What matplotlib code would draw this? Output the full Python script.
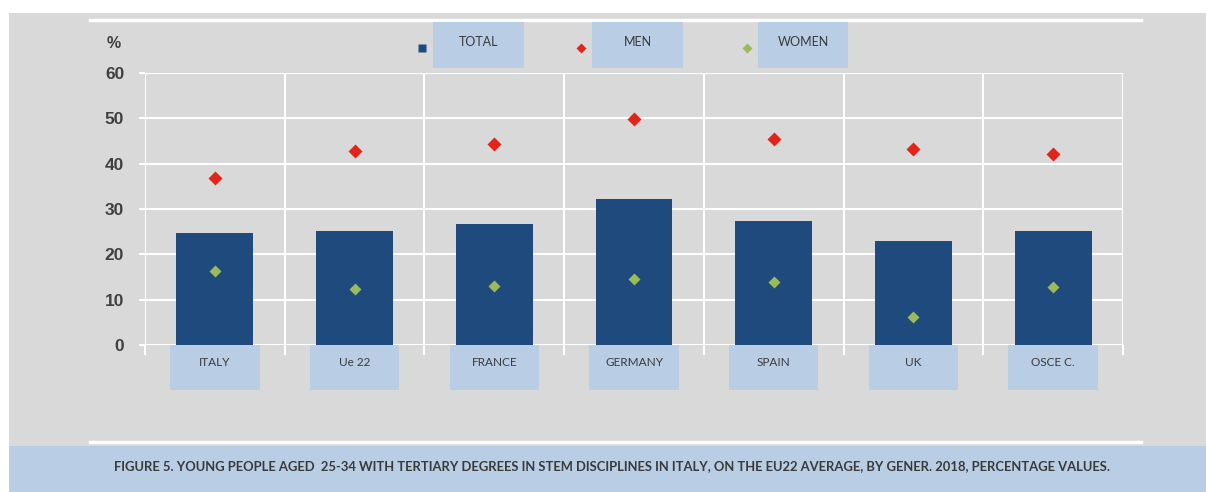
import matplotlib
matplotlib.use('Agg')
import matplotlib.pyplot as plt
from matplotlib.patches import Rectangle
import numpy as np

categories = ['ITALY', 'Ue 22', 'FRANCE', 'GERMANY', 'SPAIN', 'UK', 'OSCE C.']
total = [24.6, 25.1, 26.6, 32.2, 27.3, 22.9, 25.1]
men = [36.8, 42.7, 44.3, 49.8, 45.4, 43.2, 42.1]
women = [16.3, 12.3, 13.0, 14.5, 13.9, 6.2, 12.8]
yticks = [0, 10, 20, 30, 40, 50, 60]
legend_labels = ['TOTAL', 'MEN', 'WOMEN']
caption = ('FIGURE 5. YOUNG PEOPLE AGED  25-34 WITH TERTIARY DEGREES IN STEM DISCIPLINES '
           'IN ITALY, ON THE EU22 AVERAGE, BY GENER. 2018, PERCENTAGE VALUES.')

GRAY = '#d9d9d9'
BAR = '#1f4a7e'
RED = '#e2241b'
GREEN = '#9bbb59'
BOX = '#b9cde5'
TXT = '#3a3a3a'
NARROW = ['Liberation Sans Narrow', 'Liberation Sans']

W, H = 1206, 492
fig = plt.figure(figsize=(W / 100, H / 100), dpi=100)
fig.patch.set_facecolor('white')


def fx(px):
    return px / W


def fy(py):
    return 1 - py / H


# background panel and caption band
fig.patches.append(Rectangle((fx(9), fy(446)), fx(W - 9), 433 / H, transform=fig.transFigure,
                             facecolor=GRAY, edgecolor='none', zorder=-2))
fig.patches.append(Rectangle((fx(9), 0), fx(W - 9), fy(446), transform=fig.transFigure,
                             facecolor=BOX, edgecolor='none', zorder=-2))
for yy in [20, 442]:
    fig.add_artist(plt.Line2D([fx(90), fx(1141)], [fy(yy), fy(yy)], transform=fig.transFigure,
                              color='white', lw=2.5, zorder=-1))

ax = fig.add_axes([fx(145), fy(345), fx(1123 - 145), (345 - 73) / H])
ax.set_zorder(1)
ax.set_facecolor('none')
x = np.arange(len(categories))
ax.bar(x, total, width=0.55, color=BAR, zorder=3)
ax.plot(x, men, 'D', color=RED, ms=7, mec='none', zorder=4)
ax.plot(x, women, 'D', color=GREEN, ms=6.5, mec='none', zorder=4)

ax.set_xlim(-0.5, len(categories) - 0.5)
ax.set_ylim(0, 60)
ax.set_yticks(yticks)
ax.set_yticklabels([str(v) for v in yticks], family=NARROW, fontsize=12.5,
                   fontweight='bold', color='#404040')
ax.set_xticks(x)
ax.set_xticklabels([])
ax.set_xticks(np.arange(len(categories) + 1) - 0.5, minor=True)
ax.tick_params(axis='x', which='major', length=0)
ax.tick_params(axis='x', which='minor', length=7, width=1.5, color='white')
ax.tick_params(axis='y', length=4, width=1.5, color='white', pad=11)
ax.grid(True, axis='y', color='white', lw=1.5, zorder=1)
ax.grid(True, axis='x', which='minor', color='white', lw=1.5, zorder=1)
ax.set_axisbelow(True)
for s in ax.spines.values():
    s.set_visible(False)

# category label boxes below the bars
for i, name in enumerate(categories):
    ax.add_patch(Rectangle((i - 0.32, -9.9), 0.64, 9.9, facecolor=BOX, edgecolor='none',
                           clip_on=False, zorder=2))
    ax.text(i, -3.9, name, ha='center', va='center', fontsize=8.5, color=TXT,
            family='Lato', clip_on=False)

fig.text(fx(114), fy(43), '%', ha='center', va='center', fontsize=11.5, fontweight='bold',
         color='#404040', family=NARROW)

# legend drawn as boxes
leg_marker_x = [422, 581, 747]
leg_box = [(433, 524), (592, 683), (758, 848)]
leg_style = [('s', BAR, 6), ('D', RED, 5), ('D', GREEN, 5)]
for lab, mx, (b0, b1), (mk, col, ms) in zip(legend_labels, leg_marker_x, leg_box, leg_style):
    fig.patches.append(Rectangle((fx(b0), fy(68)), fx(b1 - b0), 46 / H, transform=fig.transFigure,
                                 facecolor=BOX, edgecolor='none', zorder=2))
    fig.add_artist(plt.Line2D([fx(mx)], [fy(48)], marker=mk, color=col, ms=ms, mec='none',
                              transform=fig.transFigure, zorder=3))
    fig.text(fx((b0 + b1) / 2), fy(42), lab, ha='center', va='center', fontsize=9,
             color=TXT, family='Lato', zorder=3)

fig.text(fx(612), fy(466), caption, ha='center', va='center', fontsize=9.4, fontweight='bold',
         color=TXT, family='Lato')

fig.savefig('out.png', dpi=100, facecolor=fig.get_facecolor())
